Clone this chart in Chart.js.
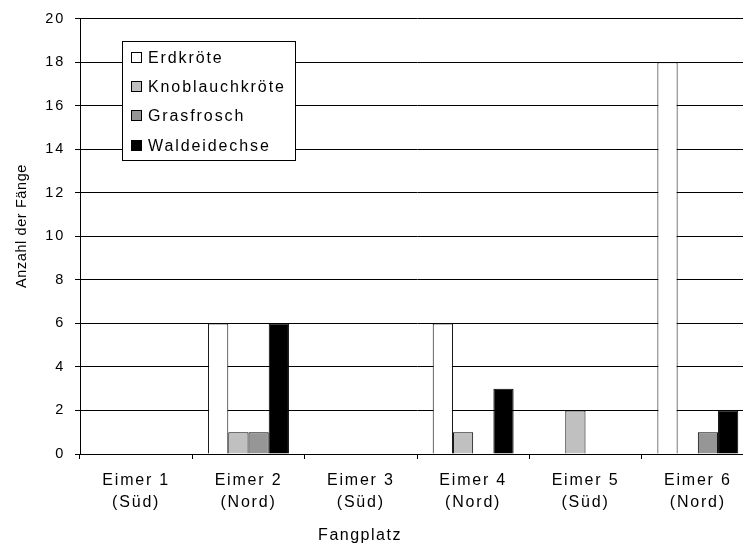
<!DOCTYPE html>
<html>
<head>
<meta charset="utf-8">
<script src="https://cdn.jsdelivr.net/npm/chart.js@4"></script>
<style>
  html, body { margin: 0; padding: 0; background: #fff; overflow: hidden; }
  #wrap { width: 743px; height: 544px; overflow: hidden; }
</style>
</head>
<body>
<div id="wrap"><canvas id="c" width="760" height="544"></canvas></div>
<script>
const categories = [
    ['Eimer 1', '(Süd)'],
    ['Eimer 2', '(Nord)'],
    ['Eimer 3', '(Süd)'],
    ['Eimer 4', '(Nord)'],
    ['Eimer 5', '(Süd)'],
    ['Eimer 6', '(Nord)']
]
const erdkroete = [0, 6, 0, 6, 0, 18]
const knoblauchkroete = [0, 1, 0, 1, 2, 0]
const grasfrosch = [0, 1, 0, 0, 0, 1]
const waldeidechse = [0, 6, 0, 3, 0, 2]
const seriesNames = ['Erdkröte', 'Knoblauchkröte', 'Grasfrosch', 'Waldeidechse']
const seriesColors = ['#ffffff', '#c0c0c0', '#969696', '#000000']

const FONT = '"Liberation Sans", Arial, sans-serif'

// letter spacing like the old export, and our own legend + axis titles
const decor = {
    id: 'decor',
    beforeLayout(chart) { chart.ctx.letterSpacing = '1.8px' },
    beforeDraw(chart) { chart.ctx.letterSpacing = '1.8px' },
    afterDraw(chart) {
        const { ctx } = chart
        ctx.save()
        // legend box
        const lx = 122.5, ly = 41.5, lw = 173, lh = 119
        ctx.fillStyle = '#fff'
        ctx.fillRect(lx, ly, lw, lh)
        ctx.strokeStyle = '#000'
        ctx.lineWidth = 1
        ctx.strokeRect(lx, ly, lw, lh)
        ctx.font = '16px ' + FONT
        ctx.letterSpacing = '1.9px'
        ctx.textBaseline = 'middle'
        ctx.textAlign = 'left'
        chart.data.datasets.forEach((ds, i) => {
            const cy = 57.5 + i * 29.2
            const sy = Math.round(cy - 5.5) + 0.5
            ctx.fillStyle = ds.backgroundColor
            ctx.fillRect(131.5, sy, 10, 10)
            ctx.strokeRect(131.5, sy, 10, 10)
            ctx.fillStyle = '#000'
            ctx.fillText(ds.label, 148, cy + 1)
        })
        // axis titles
        ctx.font = '16px ' + FONT
        ctx.letterSpacing = '1.5px'
        ctx.textBaseline = 'alphabetic'
        ctx.textAlign = 'center'
        ctx.fillText('Fangplatz', 360, 540)
        ctx.font = '14.5px ' + FONT
        ctx.letterSpacing = '0.6px'
        ctx.translate(25.5, 226)
        ctx.rotate(-Math.PI / 2)
        ctx.fillText('Anzahl der Fänge', 0, 0)
        ctx.restore()
    }
}

const mkSet = (i, data) => ({
    label: seriesNames[i],
    data: data,
    backgroundColor: seriesColors[i],
    borderColor: '#000',
    borderWidth: 1,
    categoryPercentage: 0.72,
    barPercentage: 1.0
})

new Chart(document.getElementById('c'), {
    type: 'bar',
    data: {
        labels: categories,
        datasets: [
            mkSet(0, erdkroete),
            mkSet(1, knoblauchkroete),
            mkSet(2, grasfrosch),
            mkSet(3, waldeidechse)
        ]
    },
    options: {
        responsive: false,
        animation: false,
        layout: { padding: { top: 16, right: 6, left: 0, bottom: 0 } },
        plugins: {
            legend: { display: false },
            tooltip: { enabled: false }
        },
        scales: {
            x: {
                afterFit(scale) { scale.height = 90 },
                grid: {
                    offset: true,
                    drawOnChartArea: false,
                    tickLength: 5,
                    color: '#000'
                },
                border: { color: '#000', width: 1 },
                ticks: {
                    color: '#000',
                    padding: 11,
                    maxRotation: 0,
                    autoSkip: false,
                    font: { family: FONT, size: 16, lineHeight: 1.375 }
                }
            },
            y: {
                min: 0,
                max: 20,
                afterFit(scale) { scale.width = 80 },
                grid: { color: '#000', tickLength: 5 },
                border: { color: '#000', width: 1 },
                ticks: {
                    stepSize: 2,
                    color: '#000',
                    padding: 10,
                    font: { family: FONT, size: 14.5 }
                }
            }
        }
    },
    plugins: [decor]
})
</script>
</body>
</html>
